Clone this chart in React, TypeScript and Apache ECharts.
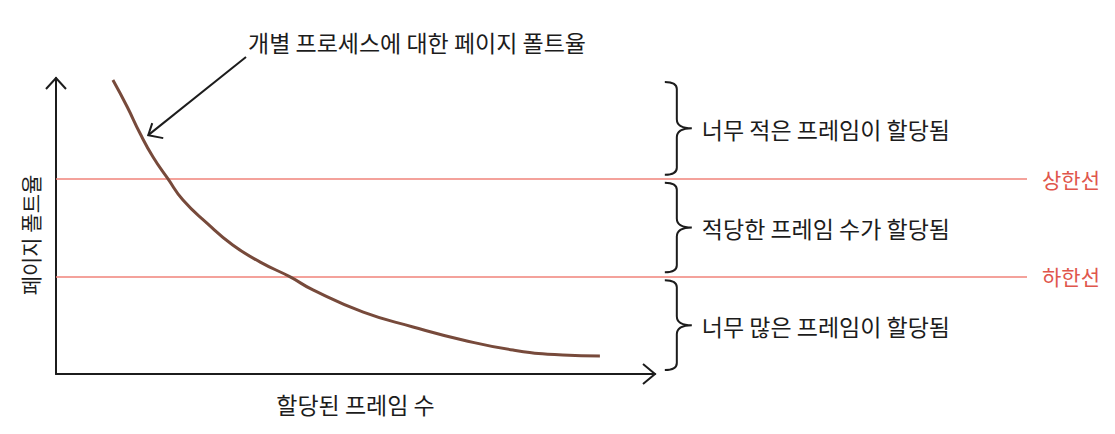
import React, { useEffect, useRef } from "react";
import * as echarts from "echarts";

// Allocated frames (x, 0-100 scale) and page-fault rate (y, 0-100 scale)
const frameCounts = [9.5, 11.9, 14.0, 16.2, 18.7, 21.2, 25.2, 29.5, 34.1, 39.1, 42.9, 51.3, 59.6, 67.9, 76.3, 84.6, 90.8];
const faultRates = [99.3, 90.2, 81.4, 73.3, 65.9, 58.8, 51.0, 43.6, 37.8, 32.8, 28.4, 20.9, 15.9, 11.5, 8.1, 6.4, 6.1];

// Threshold lines
const thresholdNames = ["상한선", "하한선"];
const thresholdValues = [66, 33];

// Bands described by braces
const bandLows = [66, 33, 0];
const bandHighs = [100, 66, 33];
const bandLabels = ["너무 적은 프레임이 할당됨", "적당한 프레임 수가 할당됨", "너무 많은 프레임이 할당됨"];

const xAxisName = "할당된 프레임 수";
const yAxisName = "페이지 폴트율";
const annotationText = "개별 프로세스에 대한 페이지 폴트율";

const FONT = "'Noto Sans CJK KR', 'Noto Sans', sans-serif";
const INK = "#1c1c1c";
const RED_LINE = "#f0837a";
const RED_TEXT = "#e0564c";
const BROWN = "#774a3b";
const BRACE_X = 62.7;

export default function App() {
  const ref = useRef<HTMLDivElement>(null);

  useEffect(() => {
    if (!ref.current) return;
    const chart = echarts.init(ref.current, null, { renderer: "svg" });

    const curve = frameCounts.map((x, i) => [x, faultRates[i]]);
    const bands = bandLows.map((lo, i) => [lo, bandHighs[i], i]);

    const option: any = {
      animation: false,
      backgroundColor: "#ffffff",
      grid: [
        { left: 56, right: 460, top: 78, bottom: 60 },
        { left: 56, right: 88, top: 78, bottom: 60 },
      ],
      xAxis: [
        {
          type: "value",
          gridIndex: 0,
          min: 0,
          max: 100,
          name: xAxisName,
          nameLocation: "middle",
          nameGap: 18,
          nameTextStyle: { color: INK, fontSize: 23, fontFamily: FONT },
          axisLine: { show: true, lineStyle: { color: INK, width: 2 } },
          axisTick: { show: false },
          axisLabel: { show: false },
          splitLine: { show: false },
        },
        { type: "value", gridIndex: 1, min: 0, max: 100, show: false },
      ],
      yAxis: [
        {
          type: "value",
          gridIndex: 0,
          min: 0,
          max: 100,
          axisLine: { show: true, lineStyle: { color: INK, width: 2 } },
          axisTick: { show: false },
          axisLabel: { show: false },
          splitLine: { show: false },
        },
        { type: "value", gridIndex: 1, min: 0, max: 100, show: false },
      ],
      series: [
        {
          type: "custom",
          xAxisIndex: 1,
          yAxisIndex: 1,
          clip: false,
          silent: true,
          data: bands,
          renderItem: (params: any, api: any) => {
            const lo = api.value(0);
            const hi = api.value(1);
            const idx = api.value(2);
            const pTop = api.coord([BRACE_X, hi]);
            const pBot = api.coord([BRACE_X, lo]);
            const x1 = pTop[0] + 12;
            const x0 = pTop[0];
            const x2 = x1 + 15;
            const t = pTop[1] + 4;
            const b = pBot[1] - 4;
            const m = (t + b) / 2;
            const d =
              `M${x0},${t} Q${x1},${t} ${x1},${t + 7} L${x1},${m - 9} Q${x1},${m} ${x2},${m} ` +
              `Q${x1},${m} ${x1},${m + 9} L${x1},${b - 7} Q${x1},${b} ${x0},${b}`;
            return {
              type: "group",
              children: [
                {
                  type: "path",
                  shape: { pathData: d },
                  style: { stroke: INK, fill: "none", lineWidth: 2 },
                },
                {
                  type: "text",
                  style: {
                    text: bandLabels[idx],
                    x: x2 + 10,
                    y: m + 1,
                    fill: INK,
                    fontSize: 23,
                    fontFamily: FONT,
                    align: "left",
                    verticalAlign: "middle",
                  },
                },
              ],
            };
          },
          markLine: {
            silent: true,
            symbol: ["none", "none"],
            lineStyle: { color: RED_LINE, width: 1.6, type: "solid" },
            label: {
              show: true,
              position: "end",
              distance: 15,
              formatter: (p: any) => p.name,
              color: RED_TEXT,
              fontSize: 21,
              fontFamily: FONT,
            },
            data: thresholdValues.map((v, i) => ({ yAxis: v, name: thresholdNames[i] })),
          },
        },
        {
          type: "line",
          xAxisIndex: 0,
          yAxisIndex: 0,
          data: curve,
          smooth: 0.5,
          showSymbol: false,
          lineStyle: { color: BROWN, width: 3 },
          silent: true,
          z: 5,
        },
      ],
    };

    chart.setOption(option);

    const xEnd = chart.convertToPixel({ gridIndex: 0 }, [100, 0]) as number[];
    const yEnd = chart.convertToPixel({ gridIndex: 0 }, [0, 100]) as number[];
    const tip = chart.convertToPixel({ gridIndex: 0 }, [15.4, 80.7]) as number[];

    chart.setOption({
      graphic: [
        {
          type: "polyline",
          shape: { points: [[yEnd[0] - 10, yEnd[1] + 11], [yEnd[0], yEnd[1]], [yEnd[0] + 10, yEnd[1] + 11]] },
          style: { stroke: INK, lineWidth: 2, fill: "none" },
        },
        {
          type: "polyline",
          shape: { points: [[xEnd[0] - 12, xEnd[1] - 10], [xEnd[0], xEnd[1]], [xEnd[0] - 12, xEnd[1] + 10]] },
          style: { stroke: INK, lineWidth: 2, fill: "none" },
        },
        {
          type: "line",
          shape: { x1: 246, y1: 57, x2: tip[0], y2: tip[1] },
          style: { stroke: INK, lineWidth: 2 },
        },
        {
          type: "polyline",
          shape: { points: [[tip[0] + 4, tip[1] - 12], [tip[0], tip[1]], [tip[0] + 15, tip[1] + 3]] },
          style: { stroke: INK, lineWidth: 2, fill: "none" },
        },
        {
          type: "text",
          x: 248,
          y: 42,
          style: {
            text: annotationText,
            fill: INK,
            fontSize: 23,
            fontFamily: FONT,
            align: "left",
            verticalAlign: "middle",
          },
        },
        {
          type: "text",
          x: 30,
          y: 235,
          rotation: Math.PI / 2,
          style: {
            text: yAxisName,
            fill: INK,
            fontSize: 21,
            fontFamily: FONT,
            align: "center",
            verticalAlign: "middle",
          },
        },
      ],
    });

    return () => chart.dispose();
  }, []);

  return (
    <div
      ref={ref}
      style={{ position: "absolute", left: 0, top: 0, width: 1115, height: 434 }}
    />
  );
}
